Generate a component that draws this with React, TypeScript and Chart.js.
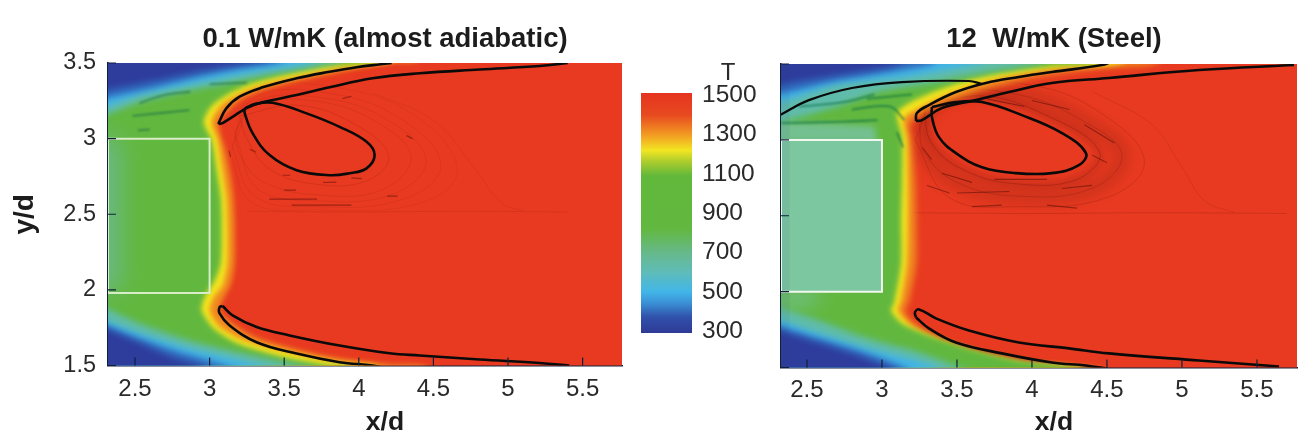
import React, { useEffect, useRef } from "react";
import { Chart, registerables } from "chart.js";

type P = [number, number];

// ---- blur hook must run before the Filler plugin, so it is registered first
const softEdges = {
  id: "softEdges",
  beforeDatasetDraw(chart: any, args: any) {
    const b = chart.data.datasets[args.index].blurPx;
    chart.ctx.filter = b ? `blur(${b}px)` : "none";
  },
  afterDatasetDraw(chart: any) {
    chart.ctx.filter = "none";
  },
};
Chart.register(softEdges as any);
Chart.register(...registerables);

// ---- axes
const xTickValues = [2.5, 3, 3.5, 4, 4.5, 5, 5.5];
const yTickValues = [1.5, 2, 2.5, 3, 3.5];
const barTickValues = [300, 500, 700, 900, 1100, 1300, 1500];
const titleLeft = "0.1 W/mK (almost adiabatic)";
const titleRight = "12  W/mK (Steel)";

// ---- colour bar
const barRange: [number, number][] = [[290, 1512]];
const barStops: [number, string][] = [
  [290, "#2e3a96"], [370, "#3050aa"], [440, "#3a8ed4"], [500, "#42b6e8"], [600, "#5fbcb8"],
  [700, "#66b98a"], [820, "#62b840"], [1090, "#62b83a"], [1170, "#b4cf2c"], [1220, "#f2e622"],
  [1300, "#f29a22"], [1400, "#e84a20"], [1512, "#e5331f"],
];

// ---- colours of the temperature levels
const cRed = "#e83a20", cOrange = "#f08a20", cYellow = "#f4e41e", cGreen = "#62b83f";
const cTeal = "#60bcaa", cCyan = "#42b4e6", cMid = "#3068bc", cDark = "#2e3c9c";

// ---- left panel (0.1 W/mK): level contours
const L_orange: P[] = [[4.41,3.7],[4.41,3.52],[4.16,3.5],[3.87,3.44],[3.58,3.38],[3.355,3.32],[3.2,3.25],[3.12,3.18],[3.06,3.1],[3.107,2.92],[3.14,2.76],[3.16,2.61],[3.168,2.46],[3.168,2.18],[3.14,2.03],[3.094,1.944],[3.067,1.864],[3.147,1.785],[3.315,1.685],[3.583,1.606],[3.871,1.546],[4.206,1.507],[4.474,1.48],[4.47,1.2],[1.8,1.2],[1.8,3.7],[4.41,3.7]];
const L_yellow: P[] = [[4.24,3.7],[4.24,3.52],[3.87,3.467],[3.583,3.407],[3.355,3.354],[3.2,3.295],[3.08,3.222],[3.013,3.11],[3.054,2.99],[3.087,2.79],[3.114,2.61],[3.12,2.46],[3.12,2.18],[3.087,2.03],[3.027,1.95],[3.0,1.864],[3.067,1.758],[3.235,1.665],[3.536,1.586],[3.871,1.52],[4.14,1.48],[4.14,1.2],[1.8,1.2],[1.8,3.7],[4.24,3.7]];
const L_green: P[] = [[4.173,3.7],[4.173,3.53],[3.804,3.48],[3.5,3.42],[3.268,3.36],[3.134,3.3],[3.013,3.215],[2.96,3.11],[3.013,2.99],[3.047,2.79],[3.074,2.61],[3.08,2.46],[3.074,2.18],[3.034,2.063],[2.966,1.95],[2.946,1.864],[3.027,1.745],[3.2,1.64],[3.5,1.553],[3.804,1.5],[4.0,1.47],[4.0,1.2],[1.8,1.2],[1.8,3.7],[4.173,3.7]];
const L_tealEdge: P[] = [[1.9,3.0],[2.4,3.0],[2.4,2.0],[1.9,2.0],[1.9,3.0]];
const L_topTeal: P[] = [[2.0,3.05],[2.26,3.136],[2.53,3.24],[2.82,3.31],[3.134,3.368],[3.449,3.434],[3.804,3.493],[3.9,3.53],[3.9,3.7],[2.0,3.7],[2.0,3.05]];
const L_topCyan: P[] = [[2.0,3.1],[2.26,3.19],[2.53,3.288],[2.75,3.334],[3.087,3.4],[3.355,3.447],[3.65,3.493],[3.737,3.553],[3.737,3.7],[2.0,3.7],[2.0,3.1]];
const L_topMid: P[] = [[2.0,3.16],[2.26,3.255],[2.645,3.34],[2.93,3.407],[3.2,3.46],[3.45,3.5],[3.55,3.553],[3.55,3.7],[2.0,3.7],[2.0,3.16]];
const L_topDark: P[] = [[2.0,3.22],[2.26,3.31],[2.645,3.387],[2.93,3.447],[3.25,3.5],[3.42,3.54],[3.42,3.7],[2.0,3.7],[2.0,3.22]];
const L_botTeal: P[] = [[2.0,2.0],[2.26,1.9],[2.53,1.78],[2.866,1.666],[3.2,1.586],[3.536,1.513],[3.737,1.454],[3.737,1.2],[2.0,1.2],[2.0,2.0]];
const L_botCyan: P[] = [[2.0,1.92],[2.26,1.81],[2.53,1.713],[2.866,1.613],[3.154,1.547],[3.335,1.5],[3.47,1.454],[3.47,1.2],[2.0,1.2],[2.0,1.92]];
const L_botMid: P[] = [[2.0,1.88],[2.26,1.785],[2.53,1.68],[2.8,1.587],[3.1,1.5],[3.2,1.454],[3.2,1.2],[2.0,1.2],[2.0,1.88]];
const L_botDark: P[] = [[2.0,1.85],[2.26,1.76],[2.53,1.647],[2.75,1.553],[2.93,1.5],[3.0,1.454],[3.0,1.2],[2.0,1.2],[2.0,1.85]];
const L_rect: P[] = [[2.319,3.0],[3.0,3.0],[3.0,1.98],[2.319,1.98]];

// ---- left panel: heavy black isolines
const L_upperLens: P[] = [[3.06,3.096],[3.062,3.105],[3.112,3.2],[3.201,3.277],[3.355,3.339],[3.583,3.399],[3.804,3.442],[3.985,3.472],[4.16,3.493],[4.22,3.5]];
const L_upperInner: P[] = [[3.06,3.096],[3.087,3.103],[3.154,3.144],[3.248,3.202],[3.355,3.24],[3.583,3.288],[3.804,3.339],[4.092,3.399],[4.408,3.432],[4.81,3.457],[5.212,3.48],[5.4,3.5]];
const L_vortex: P[] = [[3.235,3.2],[3.302,3.228],[3.422,3.237],[3.65,3.167],[3.871,3.078],[4.052,2.979],[4.106,2.891],[4.052,2.803],[3.938,2.771],[3.804,2.758],[3.583,2.791],[3.402,2.891],[3.288,3.036],[3.235,3.169],[3.235,3.2]];
const L_lowerOuter: P[] = [[3.087,1.893],[3.067,1.886],[3.067,1.844],[3.134,1.765],[3.315,1.654],[3.583,1.579],[3.871,1.522],[4.092,1.5],[4.2,1.48]];
const L_lowerInner: P[] = [[3.087,1.893],[3.154,1.831],[3.315,1.754],[3.536,1.699],[3.871,1.632],[4.206,1.581],[4.408,1.566],[4.81,1.54],[5.212,1.517],[5.41,1.5]];

// ---- left panel: faint streamlines and specks
const L_ringA: P[] = [[3.2,3.15],[3.6,3.22],[4.0,3.08],[4.2,2.88],[4.05,2.72],[3.7,2.7],[3.4,2.8],[3.25,3.0],[3.2,3.15]];
const L_ringB: P[] = [[3.17,3.05],[3.3,3.22],[3.7,3.25],[4.1,3.12],[4.35,2.88],[4.15,2.66],[3.7,2.63],[3.35,2.72],[3.2,2.9],[3.17,3.05]];
const L_ringC: P[] = [[3.15,2.95],[3.3,3.27],[3.8,3.3],[4.3,3.12],[4.55,2.82],[4.3,2.6],[3.7,2.55],[3.3,2.62],[3.15,2.95]];
const L_ringD: P[] = [[3.18,3.0],[3.3,3.24],[3.75,3.27],[4.2,3.12],[4.45,2.85],[4.22,2.63],[3.7,2.59],[3.32,2.67],[3.18,3.0]];
const L_ringE: P[] = [[3.14,2.9],[3.3,3.3],[3.9,3.33],[4.42,3.12],[4.66,2.78],[4.4,2.57],[3.7,2.53],[3.28,2.58],[3.14,2.9]];
const L_tail: P[] = [[4.1,3.3],[4.5,3.12],[4.78,2.8],[4.95,2.58],[5.1,2.52]];
const L_base: P[] = [[3.25,2.52],[4.0,2.515],[4.7,2.52],[5.4,2.515]];
const L_specks: P[] = [[3.49,2.758],[3.54,2.758],[NaN,NaN],[3.5,2.66],[3.58,2.66],[NaN,NaN],[4.19,2.62],[4.26,2.62],[NaN,NaN],[3.76,2.71],[3.85,2.712],[NaN,NaN],[3.95,2.74],[4.02,2.735],[NaN,NaN],[3.13,2.92],[3.14,2.88],[NaN,NaN],[3.27,2.93],[3.31,2.91],[NaN,NaN],[3.89,3.265],[3.95,3.28],[NaN,NaN],[4.32,3.02],[4.36,3.0],[NaN,NaN],[3.4,2.6],[3.72,2.6],[NaN,NaN],[3.55,2.56],[3.95,2.56]];
const L_streaks: P[] = [[2.484,3.15],[2.866,3.189],[NaN,NaN],[2.53,3.235],[2.7,3.29],[2.87,3.31],[NaN,NaN],[3.0,3.36],[3.25,3.37],[NaN,NaN],[2.52,3.055],[2.6,3.06]];

// ---- right panel (12 W/mK): level contours
const R_orange: P[] = [[4.847,3.7],[4.847,3.513],[4.447,3.474],[4.027,3.414],[3.68,3.328],[3.447,3.249],[3.28,3.177],[3.187,3.104],[3.2,3.0],[3.22,2.734],[3.227,2.47],[3.227,2.187],[3.18,1.942],[3.153,1.863],[3.26,1.758],[3.447,1.665],[3.68,1.586],[4.013,1.52],[4.513,1.467],[4.513,1.2],[1.8,1.2],[1.8,3.7],[4.847,3.7]];
const R_yellow: P[] = [[4.613,3.7],[4.613,3.513],[4.18,3.474],[3.847,3.42],[3.613,3.361],[3.413,3.289],[3.247,3.21],[3.147,3.144],[3.167,3.0],[3.173,2.715],[3.173,2.47],[3.167,2.187],[3.127,1.942],[3.107,1.876],[3.193,1.777],[3.38,1.685],[3.613,1.606],[3.947,1.533],[4.347,1.48],[4.347,1.2],[1.8,1.2],[1.8,3.7],[4.613,3.7]];
const R_green: P[] = [[4.513,3.7],[4.513,3.526],[4.133,3.487],[3.8,3.44],[3.58,3.394],[3.36,3.322],[3.193,3.249],[3.1,3.177],[3.133,3.018],[3.133,2.715],[3.127,2.47],[3.127,2.187],[3.08,1.923],[3.06,1.876],[3.133,1.79],[3.313,1.711],[3.58,1.626],[3.913,1.546],[4.247,1.507],[4.447,1.467],[4.447,1.2],[1.8,1.2],[1.8,3.7],[4.513,3.7]];
const R_aboveRect: P[] = [[2.0,3.13],[2.6,3.11],[2.95,3.09],[2.97,2.98],[2.0,2.98],[2.0,3.13]];
const R_belowRect: P[] = [[2.0,2.0],[2.62,2.0],[2.5,1.9],[2.0,1.94],[2.0,2.0]];
const R_solid: P[] = [[2.0,3.0],[3.0,3.0],[3.0,2.0],[2.0,2.0],[2.0,3.0]];
const R_topTeal: P[] = [[2.0,3.0],[2.247,3.097],[2.333,3.117],[2.693,3.216],[2.98,3.315],[3.36,3.381],[3.667,3.441],[4.027,3.5],[4.113,3.54],[4.113,3.7],[2.0,3.7],[2.0,3.0]];
const R_topCyan: P[] = [[2.0,3.12],[2.247,3.223],[2.38,3.262],[2.693,3.361],[3.133,3.408],[3.36,3.447],[3.627,3.5],[3.713,3.54],[3.713,3.7],[2.0,3.7],[2.0,3.12]];
const R_topMid: P[] = [[2.0,3.2],[2.247,3.289],[2.38,3.315],[2.693,3.388],[3.027,3.441],[3.313,3.493],[3.38,3.54],[3.38,3.7],[2.0,3.7],[2.0,3.2]];
const R_topDark: P[] = [[2.0,3.25],[2.247,3.342],[2.38,3.375],[2.693,3.427],[3.027,3.48],[3.147,3.526],[3.147,3.7],[2.0,3.7],[2.0,3.25]];
const R_botTeal: P[] = [[2.0,2.0],[2.247,1.916],[2.58,1.81],[2.913,1.691],[3.247,1.6],[3.513,1.5],[3.613,1.454],[3.613,1.2],[2.0,1.2],[2.0,2.0]];
const R_botCyan: P[] = [[2.0,1.92],[2.247,1.837],[2.58,1.725],[2.913,1.626],[3.18,1.56],[3.36,1.5],[3.447,1.454],[3.447,1.2],[2.0,1.2],[2.0,1.92]];
const R_botMid: P[] = [[2.0,1.88],[2.247,1.797],[2.58,1.692],[2.88,1.6],[3.147,1.5],[3.213,1.454],[3.213,1.2],[2.0,1.2],[2.0,1.88]];
const R_botDark: P[] = [[2.0,1.85],[2.247,1.764],[2.58,1.659],[2.867,1.566],[3.047,1.5],[3.113,1.454],[3.113,1.2],[2.0,1.2],[2.0,1.85]];
const R_rect: P[] = [[2.327,3.0],[3.0,3.0],[3.0,2.0],[2.327,2.0]];
const R_edgeStrip: P[] = [[2.0,1.2],[2.385,1.2],[2.385,3.8],[2.0,3.8],[2.0,1.2]];

// ---- right panel: heavy black isolines
const R_coldLine: P[] = [[2.32,3.163],[2.513,3.262],[2.8,3.342],[3.133,3.381],[3.58,3.388],[3.667,3.368]];
const R_upperLens: P[] = [[3.227,3.124],[3.233,3.177],[3.313,3.229],[3.493,3.315],[3.693,3.375],[3.913,3.414],[4.133,3.447],[4.467,3.493],[4.527,3.513]];
const R_upperInner: P[] = [[3.227,3.124],[3.267,3.13],[3.4,3.21],[3.627,3.262],[3.847,3.315],[4.133,3.375],[4.513,3.408],[5.113,3.46],[5.747,3.493]];
const R_vortex: P[] = [[3.333,3.216],[3.493,3.249],[3.667,3.249],[3.933,3.163],[4.2,3.045],[4.36,2.913],[4.313,2.833],[4.133,2.781],[3.893,2.781],[3.667,2.82],[3.493,2.913],[3.38,3.018],[3.333,3.15],[3.333,3.216]];
const R_lowerInner: P[] = [[3.227,1.83],[3.22,1.863],[3.247,1.883],[3.36,1.824],[3.58,1.744],[3.913,1.665],[4.247,1.626],[4.513,1.593],[5.113,1.546],[5.647,1.507]];
const R_lowerOuter: P[] = [[3.227,1.83],[3.313,1.758],[3.493,1.665],[3.8,1.593],[4.133,1.533],[4.36,1.513],[4.513,1.49]];

// ---- right panel: streamlines and specks
const R_ringA: P[] = [[3.28,3.2],[3.65,3.29],[4.1,3.16],[4.45,2.92],[4.3,2.74],[3.9,2.71],[3.55,2.8],[3.33,2.98],[3.28,3.2]];
const R_ringB: P[] = [[3.25,3.1],[3.45,3.3],[3.9,3.3],[4.35,3.12],[4.6,2.9],[4.4,2.68],[3.9,2.63],[3.5,2.72],[3.28,2.92],[3.25,3.1]];
const R_ringC: P[] = [[3.22,3.0],[3.4,3.33],[4.0,3.36],[4.5,3.15],[4.75,2.85],[4.5,2.62],[3.9,2.56],[3.45,2.62],[3.22,3.0]];
const R_tail: P[] = [[4.4,3.32],[4.8,3.1],[5.0,2.82],[5.15,2.6],[5.35,2.52]];
const R_base: P[] = [[3.2,2.52],[4.0,2.515],[4.8,2.52],[5.7,2.515]];
const R_specks: P[] = [[3.27,2.95],[3.33,2.87],[NaN,NaN],[3.4,2.78],[3.6,2.72],[NaN,NaN],[3.75,2.74],[4.1,2.74],[NaN,NaN],[3.5,2.65],[3.85,2.66],[NaN,NaN],[4.2,2.68],[4.4,2.7],[NaN,NaN],[3.6,2.56],[3.8,2.57],[NaN,NaN],[4.1,2.57],[4.3,2.55],[NaN,NaN],[4.35,3.1],[4.55,2.98],[NaN,NaN],[4.0,3.26],[4.25,3.2],[NaN,NaN],[3.7,3.27],[3.95,3.22],[NaN,NaN],[4.4,2.9],[4.5,2.85],[NaN,NaN],[3.3,2.7],[3.45,2.65]];
const R_streaks: P[] = [[2.33,3.11],[2.75,3.12],[2.97,3.13],[NaN,NaN],[2.45,3.22],[2.75,3.25],[2.95,3.3],[NaN,NaN],[2.8,3.2],[3.05,3.22],[3.15,3.13],[NaN,NaN],[2.9,3.27],[3.2,3.3],[NaN,NaN],[3.1,3.05],[3.14,2.95]];

const toXY = (pts: P[]) => pts.map(([x, y]) => ({ x, y }));

const poly = (pts: P[], color: string, blurPx: number, tension = 0.25) => ({
  type: "scatter", data: toXY(pts), showLine: true, fill: "shape", backgroundColor: color,
  borderWidth: 0, pointRadius: 0, tension, capBezierPoints: false, blurPx, spanGaps: false,
});
const rect = (pts: P[], color: string, width: number) => ({
  type: "scatter", data: toXY([...pts, pts[0]]), showLine: true, fill: false, borderColor: color,
  borderWidth: width, pointRadius: 0, tension: 0, spanGaps: false,
});
const curve = (pts: P[], color: string, width: number, tension = 0.4, blurPx = 0) => ({
  type: "scatter", data: toXY(pts), showLine: true, fill: false, borderColor: color,
  borderWidth: width, pointRadius: 0, tension, capBezierPoints: false, spanGaps: false, blurPx,
});

const background: P[] = [[1.8, 1.2], [6.2, 1.2], [6.2, 3.8], [1.8, 3.8], [1.8, 1.2]];

const leftLayers = [
  poly(background, cRed, 0, 0),
  curve(L_ringE, "rgba(60,0,0,0.1)", 0.6), curve(L_ringC, "rgba(60,0,0,0.12)", 0.6), curve(L_ringD, "rgba(60,0,0,0.13)", 0.6),
  curve(L_ringB, "rgba(60,0,0,0.15)", 0.6), curve(L_ringA, "rgba(60,0,0,0.2)", 0.6),
  curve(L_tail, "rgba(60,0,0,0.12)", 0.6), curve(L_base, "rgba(60,0,0,0.12)", 0.8), curve(L_specks, "rgba(40,0,0,0.4)", 1.2, 0, 0.7),
  poly(L_orange, cOrange, 2.5), poly(L_yellow, cYellow, 2.5), poly(L_green, cGreen, 2.5), poly(L_tealEdge, "#6cb888", 12, 0),
  poly(L_topTeal, cTeal, 3), poly(L_topCyan, cCyan, 3), poly(L_topMid, cMid, 3), poly(L_topDark, cDark, 3),
  poly(L_botTeal, cTeal, 3), poly(L_botCyan, cCyan, 3), poly(L_botMid, cMid, 3), poly(L_botDark, cDark, 3),
  curve(L_streaks, "rgba(20,100,70,0.6)", 1.8, 0.4, 1),
  rect(L_rect, "#d9ecc8", 2),
  curve(L_upperLens, "#0a0a0a", 2.6), curve(L_upperInner, "#0a0a0a", 2.6), curve(L_vortex, "#0a0a0a", 2.6),
  curve(L_lowerOuter, "#0a0a0a", 2.6), curve(L_lowerInner, "#0a0a0a", 2.6),
];

const rightLayers = [
  poly(background, cRed, 0, 0),
  curve(R_ringB, "rgba(50,0,0,0.12)", 16, 0.4, 6), curve(R_ringA, "rgba(50,0,0,0.12)", 8, 0.4, 3),
  curve(R_ringC, "rgba(50,0,0,0.2)", 0.7), curve(R_ringB, "rgba(50,0,0,0.22)", 0.7), curve(R_ringA, "rgba(50,0,0,0.28)", 0.7),
  curve(R_tail, "rgba(50,0,0,0.15)", 0.7), curve(R_base, "rgba(50,0,0,0.18)", 0.8), curve(R_specks, "rgba(40,0,0,0.4)", 1.1, 0, 0.7),
  poly(R_orange, cOrange, 3), poly(R_yellow, cYellow, 2.5), poly(R_green, cGreen, 2.5),
  poly(R_aboveRect, "#74c090", 3, 0), poly(R_belowRect, "#72c08e", 9, 0),
  poly(R_topTeal, cTeal, 3), poly(R_topCyan, cCyan, 3), poly(R_topMid, cMid, 3), poly(R_topDark, cDark, 3),
  poly(R_botTeal, cTeal, 3), poly(R_botCyan, cCyan, 3), poly(R_botMid, cMid, 3), poly(R_botDark, cDark, 3),
  poly(R_solid, "#7cc6a0", 0.6, 0),
  poly(R_edgeStrip, "rgba(40,50,120,0.07)", 0, 0),
  curve(R_streaks, "rgba(10,110,70,0.7)", 1.8, 0.4, 1),
  rect(R_rect, "#f2f8ee", 2),
  curve(R_coldLine, "#0a0a0a", 2.2), curve(R_upperLens, "#0a0a0a", 2.6), curve(R_upperInner, "#0a0a0a", 2.6), curve(R_vortex, "#0a0a0a", 2.6),
  curve(R_lowerOuter, "#0a0a0a", 2.6), curve(R_lowerInner, "#0a0a0a", 2.6),
];

const FONT = "'Liberation Sans', Arial, sans-serif";
const INK = "#2a2a2a";

// inner tick marks on the frame
const innerTicks = {
  id: "innerTicks",
  afterDatasetsDraw(chart: any) {
    const { ctx, chartArea: a, scales } = chart;
    ctx.save();
    ctx.strokeStyle = "#10203a";
    ctx.lineWidth = 1.2;
    ctx.beginPath();
    for (const t of scales.x.ticks) {
      const p = scales.x.getPixelForValue(t.value);
      ctx.moveTo(p, a.bottom); ctx.lineTo(p, a.bottom - 8);
    }
    for (const t of scales.y.ticks) {
      const p = scales.y.getPixelForValue(t.value);
      ctx.moveTo(a.left, p); ctx.lineTo(a.left + 8, p);
    }
    ctx.stroke();
    ctx.restore();
  },
};

const labelT = {
  id: "labelT",
  afterDraw(chart: any) {
    const { ctx } = chart;
    ctx.save();
    ctx.font = `24px ${FONT}`;
    ctx.fillStyle = INK;
    ctx.textAlign = "center";
    ctx.textBaseline = "middle";
    ctx.fillText("T", chart.chartArea.right + 36, chart.chartArea.top - 20);
    ctx.restore();
  },
};

function panelConfig(o: {
  layers: any[]; title: string; xMin: number; xMax: number; axisWidth: number; padRight: number; top: number; bottom: number; tickPad: number; yLabels: boolean; yTitle: boolean;
}) {
  return {
    type: "scatter",
    data: { datasets: [...o.layers].reverse() },
    plugins: [innerTicks],
    options: {
      responsive: false,
      animation: false,
      devicePixelRatio: 1,
      layout: { padding: 0 },
      plugins: {
        legend: { display: false },
        tooltip: { enabled: false },
        title: {
          display: true, text: o.title, color: "#1c1c1c",
          font: { family: FONT, size: 27.5, weight: "bold", lineHeight: 1.2 },
          padding: { top: 22.5, bottom: o.top - 22.5 - 33 },
        },
        subtitle: {
          display: true, position: "bottom", text: "x/d", color: "#1c1c1c",
          font: { family: FONT, size: 26.5, weight: "bold", lineHeight: 1 },
          padding: { top: 0, bottom: 0 },
        },
      },
      scales: {
        x: {
          type: "linear", min: o.xMin, max: o.xMax,
          afterBuildTicks: (s: any) => { s.ticks = xTickValues.map((value) => ({ value })); },
          afterFit: (s: any) => { s.height = o.bottom; },
          grid: { display: true, drawOnChartArea: false, drawTicks: false },
          border: { display: true, color: "#10203a", width: 1.5 },
          ticks: { color: INK, font: { family: FONT, size: 24 }, padding: o.tickPad, maxRotation: 0, autoSkip: false, callback: (v: number) => String(v) },
        },
        y: {
          type: "linear", min: 1.5, max: 3.5,
          afterBuildTicks: (s: any) => { s.ticks = yTickValues.map((value) => ({ value })); },
          afterFit: (s: any) => { s.width = o.axisWidth; },
          grid: { display: true, drawOnChartArea: false, drawTicks: false },
          border: { display: true, color: "#10203a", width: 1.5 },
          ticks: { display: o.yLabels, color: INK, font: { family: FONT, size: 23.5 }, padding: 12, autoSkip: false, callback: (v: number) => String(v) },
          title: { display: o.yTitle, text: "y/d", color: "#1c1c1c", font: { family: FONT, size: 28, weight: "bold", lineHeight: 1.2 }, padding: { top: 8, bottom: 0 } },
        },
        // empty right-hand band: keeps the titles centred on the canvas while the plot ends earlier
        rightBand: {
          type: "linear", position: "right", min: 0, max: 1,
          afterFit: (s: any) => { s.width = o.padRight; },
          grid: { display: false }, border: { display: false }, ticks: { display: false },
        },
      },
    },
  };
}

function barConfig() {
  return {
    type: "bar",
    plugins: [labelT],
    data: {
      labels: ["T"],
      datasets: [{
        data: barRange,
        barPercentage: 1,
        categoryPercentage: 1,
        borderWidth: 0,
        backgroundColor: (c: any) => {
          const a = c.chart.chartArea;
          if (!a) return cGreen;
          const g = c.chart.ctx.createLinearGradient(0, a.bottom, 0, a.top);
          const lo = barRange[0][0], hi = barRange[0][1];
          for (const [t, col] of barStops) g.addColorStop((t - lo) / (hi - lo), col);
          return g;
        },
      }],
    },
    options: {
      responsive: false,
      animation: false,
      devicePixelRatio: 1,
      layout: { padding: { left: 11, right: 0, top: 93, bottom: 103 } },
      plugins: { legend: { display: false }, tooltip: { enabled: false }, title: { display: false } },
      scales: {
        x: { display: false },
        y: {
          position: "right", min: 290, max: 1512,
          afterBuildTicks: (s: any) => { s.ticks = barTickValues.map((value) => ({ value })); },
          afterFit: (s: any) => { s.width = 78; },
          grid: { display: false },
          border: { display: false },
          ticks: { color: INK, font: { family: FONT, size: 24.5 }, padding: 2, autoSkip: false, callback: (v: number) => String(v) },
        },
      },
    },
  };
}

export default function App() {
  const leftRef = useRef<HTMLCanvasElement>(null);
  const barRef = useRef<HTMLCanvasElement>(null);
  const rightRef = useRef<HTMLCanvasElement>(null);

  useEffect(() => {
    const charts = [
      new Chart(leftRef.current as any, panelConfig({ layers: leftLayers, title: titleLeft, xMin: 2.319, xMax: 5.764, axisWidth: 108, padRight: 148, top: 63, bottom: 44, tickPad: 9, yLabels: true, yTitle: true }) as any),
      new Chart(rightRef.current as any, panelConfig({ layers: rightLayers, title: titleRight, xMin: 2.327, xMax: 5.767, axisWidth: 81, padRight: 111, top: 64, bottom: 42, tickPad: 8, yLabels: false, yTitle: false }) as any),
      new Chart(barRef.current as any, barConfig() as any),
    ];
    return () => charts.forEach((c) => c.destroy());
  }, []);

  const soft = "blur(0.5px)";
  return (
    <div style={{ position: "fixed", left: 0, top: 0, width: 1303, height: 436, overflow: "hidden", background: "#fff" }}>
      <canvas ref={leftRef} width={770} height={436} style={{ position: "absolute", left: 0, top: 0, filter: soft }} />
      <canvas ref={rightRef} width={708} height={436} style={{ position: "absolute", left: 700, top: 0, filter: soft }} />
      <canvas ref={barRef} width={140} height={436} style={{ position: "absolute", left: 630, top: 0, filter: soft }} />
    </div>
  );
}
